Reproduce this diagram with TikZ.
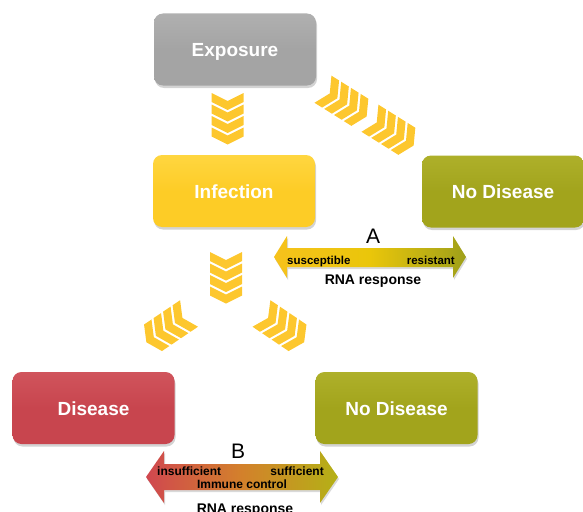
\documentclass[tikz,border=0pt]{standalone}
\usepackage{fontspec}
\setmainfont{Liberation Sans}
\usetikzlibrary{shadows}
\definecolor{grayb}{HTML}{A4A4A4}
\definecolor{grayt}{HTML}{B0B0B0}
\definecolor{yelb}{HTML}{FDCC26}
\definecolor{yelt}{HTML}{FFD640}
\definecolor{oliveb}{HTML}{A2A41C}
\definecolor{olivet}{HTML}{AEB02A}
\definecolor{redb}{HTML}{C8454E}
\definecolor{redt}{HTML}{D0545C}
\definecolor{chev}{HTML}{FDC72E}
\definecolor{arAl}{HTML}{F6C21C}
\definecolor{arAm}{HTML}{EAC60A}
\definecolor{arAr}{HTML}{9FA01A}
\definecolor{arBl}{HTML}{D0474F}
\definecolor{arBm}{HTML}{D3812B}
\definecolor{arBr}{HTML}{B4B116}
\tikzset{
  box/.style={rounded corners=9pt, minimum width=162pt, minimum height=72pt,
    text=white, font=\fontsize{19}{19}\selectfont\bfseries,
    text height=14pt, text depth=0pt,
    drop shadow={opacity=0.35, shadow xshift=1pt, shadow yshift=-2.5pt}},
  lab/.style={font=\fontsize{11.5}{12}\selectfont\bfseries, inner sep=0pt, anchor=base},
  rna/.style={font=\fontsize{14}{14}\selectfont\bfseries, inner sep=0pt, anchor=base},
  big/.style={font=\fontsize{21}{21}\selectfont, inner sep=0pt, anchor=base},
  arrshadow/.style={drop shadow={opacity=0.3, shadow xshift=1pt, shadow yshift=-2pt}},
  chevrons/.pic={
    \foreach \i in {0,1,2,3} {
      \fill[chev] (-16,{\i*11.5-26}) -- (0,{\i*11.5-18}) -- (16,{\i*11.5-26})
        -- (16,{\i*11.5-17}) -- (0,{\i*11.5-9}) -- (-16,{\i*11.5-17}) -- cycle;
    }
  }
}
\begin{document}
\begin{tikzpicture}[x=1pt,y=-1pt]
\useasboundingbox (0,0) rectangle (583,511);

% boxes
\node[box, top color=grayt, bottom color=grayb, middle color=grayb] (exp) at (235,49.5) {Exposure};
\node[box, top color=yelt, bottom color=yelb, middle color=yelb] (inf) at (234,191) {Infection};
\node[box, top color=olivet, bottom color=oliveb, middle color=oliveb] (nd1) at (503,191.5) {No Disease};
\node[box, top color=redt, bottom color=redb, middle color=redb] (dis) at (93.5,408) {Disease};
\node[box, top color=olivet, bottom color=oliveb, middle color=oliveb] (nd2) at (396.5,408) {No Disease};

% chevrons
\pic at (227.5,119) {chevrons};
\pic[rotate=58] at (345,103) {chevrons};
\pic[rotate=58] at (392,132) {chevrons};
\pic at (226,278) {chevrons};
\pic[rotate=-56] at (167.5,328) {chevrons};
\pic[rotate=56] at (283,328) {chevrons};

% arrow A
\path[arrshadow, left color=arAl, right color=arAr, middle color=arAm]
  (274,257) -- (287,236) -- (287,248) -- (453,248) -- (453,236) -- (466,257)
  -- (453,278) -- (453,267) -- (287,267) -- (287,278) -- cycle;
\node[big] (A) at (373,243) {A};
\node[lab, anchor=base west] (sus) at (287,264.5) {susceptible};
\node[lab, anchor=base east] (res) at (455,264.5) {resistant};
\node[rna] (rnaA) at (373,284) {RNA response};

% arrow B
\path[arrshadow, left color=arBl, right color=arBr, middle color=arBm]
  (146,477) -- (164,451) -- (164,464) -- (320,464) -- (320,451) -- (338,477)
  -- (320,503) -- (320,490) -- (164,490) -- (164,503) -- cycle;
\node[big] (B) at (238,458) {B};
\node[lab, font=\fontsize{12}{12}\selectfont\bfseries, anchor=base west] (ins) at (157,475) {insufficient};
\node[lab, font=\fontsize{12}{12}\selectfont\bfseries, anchor=base east] (suf) at (324,475) {sufficient};
\node[lab, font=\fontsize{12}{12}\selectfont\bfseries] (imm) at (242,488) {Immune control};
\node[rna] (rnaB) at (245,513.5) {RNA response};
\end{tikzpicture}
\end{document}
